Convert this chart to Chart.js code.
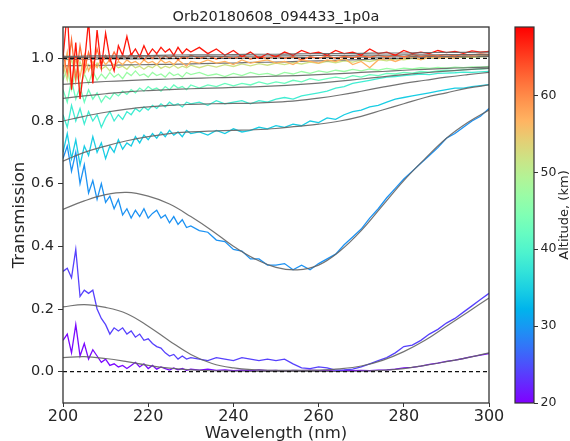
<!DOCTYPE html>
<html>
<head>
<meta charset="utf-8">
<script src="https://cdn.jsdelivr.net/npm/chart.js@4.4.0/dist/chart.umd.min.js"></script>
<style>
  html, body { margin: 0; padding: 0; background: #fff; }
  #wrap { position: relative; width: 570px; height: 441px; }
  #wrap canvas { position: absolute; left: 0; top: 0; }
</style>
</head>
<body>
<div id="wrap">
  <canvas id="main" width="570" height="441"></canvas>
  <canvas id="cbar" width="570" height="441"></canvas>
</div>
<script>
// ─── DATA ─────────────────────────────────────────────────
const wavelengths = [
  200,201,202,203,204,205,206,207,208,209,210,211,212,213,214,215,
  216,217,218,219,220,221,222,223,224,225,226,227,228,229,230,
  232,234,236,238,240,242,244,246,248,250,252,254,256,258,260,
  262,264,266,268,270,272,274,276,278,280,282,284,286,288,290,292,294,296,298,300
]
const fitWavelengths = [200,205,210,215,220,225,230,235,240,245,250,255,260,265,270,275,280,285,290,295,300]

const altitudes = [20.5, 24, 29.5, 34.5, 38.5, 42.5, 47, 52, 57, 62, 67.5]

const trans20 = [
  0.10,0.12,0.06,0.15,0.05,0.09,0.04,0.07,0.05,0.03,0.04,0.02,0.025,0.015,0.02,0.01,
  0.02,0.03,0.015,0.025,0.01,0.02,0.008,0.015,0.01,0.005,0.012,0.006,0.01,0.004,0.008,
  0.005,0.008,0.004,0.006,0.003,0.005,0.003,0.006,0.003,0.004,0.002,0.004,0.003,0.005,0.003,
  0.004,0.002,0.004,0.003,0.004,0.003,0.005,0.006,0.008,0.012,0.014,0.018,0.023,0.027,0.033,0.037,0.042,0.048,0.053,0.058
]
const trans24 = [
  0.32,0.33,0.30,0.39,0.24,0.26,0.25,0.26,0.20,0.17,0.15,0.12,0.14,0.13,0.14,0.12,
  0.13,0.11,0.12,0.10,0.105,0.09,0.08,0.075,0.06,0.05,0.055,0.04,0.05,0.04,0.045,
  0.04,0.035,0.045,0.04,0.035,0.045,0.04,0.035,0.04,0.035,0.04,0.025,0.012,0.01,0.015,
  0.012,0.005,0.006,0.008,0.015,0.025,0.035,0.045,0.06,0.08,0.085,0.1,0.12,0.135,0.155,0.17,0.19,0.21,0.23,0.25
]
const trans29 = [
  0.68,0.72,0.64,0.70,0.60,0.66,0.57,0.61,0.55,0.60,0.54,0.56,0.52,0.55,0.50,0.52,
  0.49,0.515,0.495,0.52,0.49,0.505,0.515,0.49,0.50,0.475,0.495,0.47,0.485,0.46,0.465,
  0.45,0.445,0.42,0.415,0.39,0.385,0.36,0.36,0.34,0.34,0.345,0.325,0.34,0.325,0.345,
  0.36,0.375,0.405,0.43,0.455,0.49,0.52,0.555,0.585,0.615,0.64,0.665,0.69,0.715,0.745,0.76,0.78,0.80,0.815,0.84
]
const trans34 = [
  0.70,0.76,0.68,0.74,0.66,0.72,0.69,0.75,0.70,0.73,0.68,0.72,0.70,0.74,0.71,0.73,
  0.72,0.75,0.73,0.755,0.74,0.76,0.745,0.765,0.75,0.77,0.755,0.765,0.75,0.77,0.76,
  0.765,0.755,0.77,0.76,0.775,0.765,0.77,0.78,0.775,0.785,0.78,0.79,0.785,0.80,0.795,
  0.81,0.805,0.82,0.83,0.835,0.845,0.85,0.86,0.87,0.875,0.88,0.885,0.89,0.895,0.90,0.905,0.905,0.91,0.913,0.916
]
const trans38 = [
  0.82,0.78,0.85,0.80,0.84,0.79,0.83,0.80,0.82,0.78,0.81,0.83,0.80,0.82,0.805,0.83,
  0.82,0.84,0.83,0.845,0.835,0.85,0.84,0.855,0.845,0.86,0.85,0.855,0.845,0.86,0.855,
  0.86,0.85,0.865,0.855,0.86,0.865,0.855,0.865,0.86,0.87,0.875,0.87,0.88,0.885,0.89,
  0.895,0.905,0.91,0.92,0.925,0.93,0.935,0.94,0.942,0.945,0.947,0.95,0.948,0.952,0.953,0.954,0.956,0.955,0.957,0.958
]
const trans42 = [
  0.90,0.86,0.93,0.87,0.91,0.86,0.90,0.87,0.89,0.86,0.88,0.87,0.89,0.88,0.895,0.885,
  0.90,0.89,0.905,0.895,0.91,0.90,0.905,0.895,0.91,0.90,0.915,0.905,0.91,0.90,0.915,
  0.905,0.915,0.91,0.92,0.912,0.92,0.915,0.925,0.918,0.925,0.92,0.93,0.925,0.935,0.93,
  0.935,0.94,0.935,0.945,0.94,0.948,0.945,0.952,0.95,0.955,0.953,0.958,0.956,0.96,0.962,0.961,0.964,0.965,0.966,0.968
]
const trans47 = [
  0.93,0.97,0.90,0.96,0.91,0.95,0.92,0.96,0.93,0.95,0.935,0.955,0.94,0.95,0.935,0.955,
  0.945,0.96,0.945,0.95,0.94,0.955,0.945,0.95,0.94,0.955,0.945,0.95,0.94,0.955,0.948,
  0.955,0.945,0.95,0.942,0.952,0.945,0.955,0.948,0.952,0.945,0.955,0.95,0.958,0.952,0.96,
  0.955,0.962,0.958,0.965,0.96,0.966,0.962,0.968,0.964,0.969,0.966,0.97,0.968,0.971,0.969,0.972,0.97,0.973,0.972,0.974
]
const trans52 = [
  0.98,0.93,1.00,0.94,0.99,0.95,0.98,0.96,0.985,0.965,0.975,0.96,0.98,0.97,0.975,0.965,
  0.98,0.97,0.975,0.965,0.975,0.97,0.98,0.968,0.975,0.97,0.978,0.968,0.975,0.97,0.978,
  0.97,0.978,0.972,0.98,0.974,0.982,0.976,0.983,0.978,0.985,0.98,0.986,0.982,0.988,0.984,
  0.99,0.986,0.992,0.988,0.994,0.99,0.996,0.992,0.998,0.995,1.0,0.997,1.002,0.999,1.003,1.0,1.004,1.002,1.005,1.006
]
const trans57 = [
  0.95,1.02,0.92,1.00,0.94,1.01,0.96,0.99,0.97,1.00,0.98,0.995,0.975,0.99,0.98,0.995,
  0.985,0.99,0.98,0.995,0.985,0.99,0.98,0.995,0.985,0.99,0.98,0.995,0.985,0.975,0.99,
  0.985,0.995,0.985,0.99,0.98,0.995,0.985,0.99,0.995,0.985,0.99,0.98,0.995,0.99,0.985,
  0.995,0.99,1.0,0.98,0.99,0.97,0.995,1.0,0.99,1.0,1.005,0.995,1.005,1.0,1.005,1.0,1.008,1.005,1.01,1.01
]
const trans62 = [
  1.02,0.95,1.06,0.93,1.04,0.96,1.02,0.97,1.03,0.98,1.01,0.99,1.02,0.995,1.01,1.0,
  1.015,1.0,1.01,0.995,1.01,1.0,1.012,0.998,1.008,1.0,1.01,0.995,1.005,1.0,1.01,
  1.0,1.008,0.998,1.006,1.0,1.008,0.998,1.005,1.0,1.008,1.0,1.005,0.995,1.005,1.0,
  1.008,1.0,1.006,1.002,1.008,1.003,1.01,1.004,1.01,1.005,1.012,1.006,1.01,1.008,1.012,1.008,1.013,1.01,1.014,1.012
]
const trans67 = [
  1.00,1.15,0.90,1.05,0.87,0.98,1.12,0.92,1.09,0.97,1.08,1.00,0.96,1.04,1.01,1.07,
  1.01,1.03,1.005,1.04,1.01,1.03,1.015,1.035,1.02,1.03,1.01,1.035,1.015,1.03,1.02,
  1.035,1.015,1.03,1.01,1.025,1.005,1.02,1.0,1.015,1.005,1.02,1.01,1.025,1.015,1.02,
  1.01,1.025,1.015,1.02,1.01,1.03,1.015,1.02,1.01,1.025,1.015,1.02,1.015,1.025,1.018,1.022,1.016,1.024,1.02,1.022
]

const fit20 = [0.045,0.048,0.042,0.032,0.02,0.011,0.006,0.003,0.002,0.001,0.001,0.001,0.001,0.001,0.002,0.004,0.01,0.02,0.032,0.045,0.06]
const fit24 = [0.207,0.214,0.205,0.185,0.145,0.098,0.055,0.026,0.012,0.006,0.004,0.004,0.005,0.009,0.018,0.036,0.064,0.1,0.145,0.19,0.235]
const fit29 = [0.518,0.545,0.565,0.572,0.56,0.535,0.495,0.45,0.40,0.36,0.333,0.325,0.34,0.385,0.45,0.53,0.61,0.68,0.745,0.795,0.835]
const fit34 = [0.672,0.70,0.72,0.737,0.75,0.76,0.765,0.768,0.77,0.772,0.776,0.783,0.79,0.80,0.815,0.835,0.855,0.875,0.89,0.905,0.915]
const fit38 = [0.80,0.815,0.828,0.838,0.845,0.85,0.853,0.855,0.856,0.857,0.86,0.865,0.873,0.883,0.895,0.908,0.92,0.93,0.94,0.948,0.955]
const fit42 = [0.872,0.88,0.887,0.893,0.897,0.90,0.903,0.905,0.907,0.909,0.912,0.916,0.921,0.927,0.934,0.941,0.948,0.954,0.959,0.964,0.968]
const fit47 = [0.917,0.922,0.926,0.929,0.932,0.934,0.936,0.938,0.939,0.941,0.943,0.945,0.948,0.951,0.955,0.958,0.962,0.965,0.968,0.97,0.972]
const fit52 = [0.976,0.977,0.978,0.979,0.98,0.981,0.982,0.984,0.985,0.987,0.988,0.99,0.992,0.994,0.996,0.998,1.0,1.002,1.003,1.005,1.006]
const fit57 = [0.997,0.997,0.998,0.998,0.999,0.999,1.0,1.0,1.0,1.001,1.001,1.002,1.002,1.003,1.004,1.004,1.005,1.006,1.006,1.007,1.008]
const fit62 = [1.003,1.003,1.004,1.004,1.005,1.005,1.006,1.006,1.007,1.007,1.008,1.008,1.009,1.009,1.01,1.01,1.011,1.011,1.012,1.012,1.013]
const fit67 = [1.006,1.007,1.008,1.008,1.009,1.01,1.011,1.011,1.012,1.013,1.013,1.014,1.015,1.015,1.016,1.017,1.017,1.018,1.019,1.019,1.02]

const measured = [trans20, trans24, trans29, trans34, trans38, trans42, trans47, trans52, trans57, trans62, trans67]
const fitted = [fit20, fit24, fit29, fit34, fit38, fit42, fit47, fit52, fit57, fit62, fit67]

const xTicks = [200, 220, 240, 260, 280, 300]
const yTicks = [0.0, 0.2, 0.4, 0.6, 0.8, 1.0]
const refLevels = [0.0, 1.0]
const altMin = 20
const altMax = 68.9
const altTicks = [20, 30, 40, 50, 60]

// ─── COLORMAP (matplotlib 'rainbow') ──────────────────────
function rainbow(t) {
    const r = Math.min(1, Math.abs(2 * t - 0.5))
    const g = Math.sin(t * Math.PI)
    const b = Math.cos(t * Math.PI / 2)
    return `rgb(${Math.round(r * 255)},${Math.round(g * 255)},${Math.round(b * 255)})`
}
const altColor = a => rainbow((a - altMin) / (altMax - altMin))

// ─── DATASETS ─────────────────────────────────────────────
const FONT = 'DejaVu Sans'
const TEXT = '#262626'
const plotted = []

altitudes.forEach((alt, i) => {
    plotted.push({
        data: wavelengths.map((w, j) => ({ x: w, y: measured[i][j] })),
        borderColor: altColor(alt),
        borderWidth: 1.3,
        pointRadius: 0,
        tension: 0
    })
    plotted.push({
        data: fitWavelengths.map((w, j) => ({ x: w, y: fitted[i][j] })),
        borderColor: 'rgba(100,100,100,0.9)',
        borderWidth: 1.2,
        pointRadius: 0,
        tension: 0.4
    })
})

refLevels.forEach(v => {
    plotted.push({
        data: [{ x: 200, y: v }, { x: 300, y: v }],
        borderColor: '#111',
        borderWidth: 1.2,
        borderDash: [4, 3],
        pointRadius: 0
    })
})

// chart.js draws the first dataset on top, matplotlib the last one
const datasets = plotted.reverse()

const framePlugin = {
    id: 'frame',
    afterDatasetsDraw(chart) {
        const { ctx, chartArea: a } = chart
        ctx.save()
        ctx.strokeStyle = '#333'
        ctx.lineWidth = 1.3
        ctx.strokeRect(a.left, a.top, a.right - a.left, a.bottom - a.top)
        ctx.restore()
    }
}

new Chart(document.getElementById('main'), {
    type: 'line',
    data: { datasets },
    plugins: [framePlugin],
    options: {
        responsive: false,
        animation: false,
        layout: { padding: { left: 0, right: 81, top: 0, bottom: 0 } },
        plugins: {
            legend: { display: false },
            tooltip: { enabled: false },
            title: {
                display: true,
                text: 'Orb20180608_094433_1p0a',
                fullSize: false,
                color: TEXT,
                font: { family: FONT, size: 14.5, weight: 'normal', lineHeight: 1.2 },
                padding: { top: 9, bottom: 0.6 }
            }
        },
        scales: {
            x: {
                type: 'linear',
                min: 200,
                max: 300,
                afterBuildTicks: s => { s.ticks = xTicks.map(v => ({ value: v })) },
                afterFit: s => { s.height = 38 },
                ticks: { color: TEXT, font: { family: FONT, size: 16 }, padding: 0, maxRotation: 0 },
                grid: { display: true, drawOnChartArea: false, drawTicks: true, tickLength: 4, color: '#333' },
                border: { display: false },
                title: {
                    display: true,
                    text: 'Wavelength (nm)',
                    color: TEXT,
                    font: { family: FONT, size: 16.5, lineHeight: 1.2 },
                    padding: { top: 0, bottom: -3 }
                }
            },
            y: {
                min: -0.1,
                max: 1.1,
                afterBuildTicks: s => { s.ticks = yTicks.map(v => ({ value: v })) },
                afterFit: s => { s.width = 63 },
                ticks: {
                    color: TEXT,
                    font: { family: FONT, size: 14.5 },
                    padding: 4,
                    callback: v => v.toFixed(1)
                },
                grid: { display: true, drawOnChartArea: false, drawTicks: true, tickLength: 5, color: '#333' },
                border: { display: false },
                title: {
                    display: true,
                    text: 'Transmission',
                    color: TEXT,
                    font: { family: FONT, size: 16.5, lineHeight: 1.2 },
                    padding: { top: 10, bottom: 0 }
                }
            }
        }
    }
})

// ─── COLORBAR ─────────────────────────────────────────────
const colorbarPlugin = {
    id: 'colorbar',
    beforeDatasetsDraw(chart) {
        const { ctx, chartArea: a } = chart
        const grad = ctx.createLinearGradient(0, a.bottom, 0, a.top)
        for (let k = 0; k <= 20; k++) grad.addColorStop(k / 20, rainbow(k / 20))
        ctx.save()
        ctx.fillStyle = grad
        ctx.fillRect(a.left, a.top, a.right - a.left, a.bottom - a.top)
        ctx.strokeStyle = '#333'
        ctx.lineWidth = 1.2
        ctx.strokeRect(a.left, a.top, a.right - a.left, a.bottom - a.top)
        ctx.translate(565, (a.top + a.bottom) / 2)
        ctx.rotate(-Math.PI / 2)
        ctx.fillStyle = TEXT
        ctx.font = `13px "${FONT}"`
        ctx.textAlign = 'center'
        ctx.textBaseline = 'middle'
        ctx.fillText('Altitude, (km)', 0, 0)
        ctx.restore()
    }
}

new Chart(document.getElementById('cbar'), {
    type: 'line',
    data: { datasets: [] },
    plugins: [colorbarPlugin],
    options: {
        responsive: false,
        animation: false,
        layout: { padding: { left: 515, right: 0, top: 27, bottom: 38 } },
        plugins: { legend: { display: false }, tooltip: { enabled: false } },
        scales: {
            x: { display: false },
            y: {
                position: 'right',
                min: altMin,
                max: altMax,
                afterBuildTicks: s => { s.ticks = altTicks.map(v => ({ value: v })) },
                afterFit: s => { s.width = 36 },
                ticks: { color: TEXT, font: { family: FONT, size: 12.5 }, padding: 2.5 },
                grid: { display: true, drawOnChartArea: false, drawTicks: true, tickLength: 4, color: '#333' },
                border: { display: false }
            }
        }
    }
})
</script>
</body>
</html>
